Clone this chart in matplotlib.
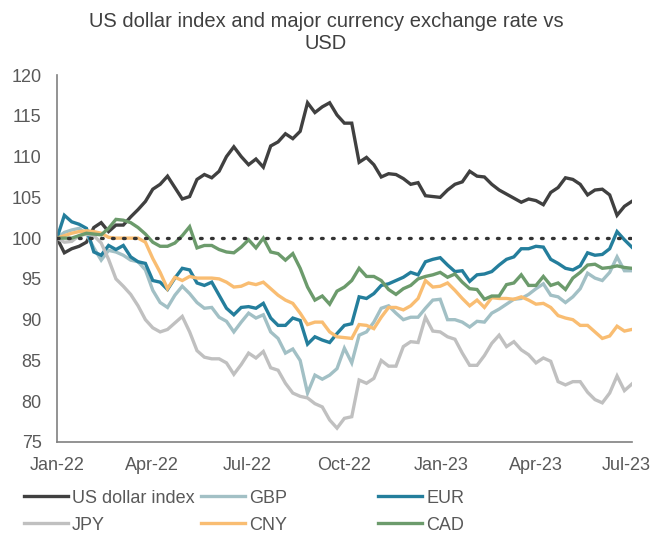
import matplotlib
matplotlib.use("Agg")
import matplotlib.pyplot as plt
import matplotlib.dates as mdates
import matplotlib.transforms as mtransforms
import pandas as pd

# weekly observations, indexed to 100 at the start of 2022
dates = pd.date_range("2022-01-01", periods=79, freq="7D")

usd = [100, 98.2, 98.7, 99, 99.5, 101.3, 101.9, 100.8, 101.6, 101.6,
       102.6, 103.5, 104.5, 106, 106.6, 107.6, 106.2, 104.8, 105.1, 107.2,
       107.8, 107.4, 108.2, 110, 111.2, 110, 109, 109.7, 108.7, 111.3,
       111.8, 112.8, 112.2, 113.1, 116.6, 115.4, 116.1, 116.6, 115.1, 114.1,
       114.1, 109.3, 109.9, 109, 107.5, 107.9, 107.8, 107.3, 106.6, 106.8,
       105.2, 105.1, 105, 105.9, 106.6, 106.9, 108.2, 107.6, 107.5, 106.6,
       105.9, 105.4, 104.9, 104.4, 104.8, 104.6, 104.1, 105.6, 106.2, 107.4,
       107.2, 106.6, 105.3, 105.9, 106, 105.3, 102.8, 103.9, 104.5]

gbp = [100, 100.7, 101, 101.2, 100.5, 98.8, 97.3, 98.5, 98.3, 97.9,
       97.3, 97.1, 96.1, 93.6, 92.1, 91.5, 93, 94.1, 93.2, 92.1,
       91.4, 91.5, 90.3, 89.8, 88.5, 89.7, 90.8, 90.2, 90.6, 88.5,
       87.7, 85.9, 86.4, 85, 81, 83.2, 82.7, 83.2, 84, 86.5,
       84.7, 88.1, 88.5, 89.7, 91.4, 91.7, 90.8, 90, 90.3, 90.3,
       91.4, 92.4, 92.5, 90, 90, 89.7, 89.1, 89.8, 89.7, 90.8,
       91.3, 91.9, 92.5, 92.6, 93.1, 93.8, 94.4, 93, 92.8, 92.1,
       92.8, 93.8, 95.7, 95.1, 94.8, 95.8, 97.7, 96, 96]

eur = [100, 102.8, 102, 101.7, 101.2, 98.3, 97.9, 99.1, 98.6, 99.1,
       97.7, 97.1, 96.9, 94.8, 94.6, 93.7, 95.1, 96.3, 96.1, 94.5,
       94.2, 94.6, 93, 91.4, 90.6, 91.5, 91.6, 91.4, 92, 90.2,
       89.3, 89.3, 90.2, 89.9, 87, 87.9, 87.5, 87.2, 88.3, 89.3,
       89.5, 92.8, 92.6, 93.2, 94.2, 94.4, 94.8, 95.2, 95.8, 95.5,
       97.1, 97.4, 97.6, 96.7, 95.9, 96, 94.7, 95.5, 95.6, 95.9,
       96.7, 97.4, 97.7, 98.7, 98.7, 99, 98.9, 97.4, 96.9, 96.3,
       96.1, 96.6, 98.2, 97.9, 98, 98.7, 100.8, 99.8, 98.9]

jpy = [100, 99.5, 99.6, 100.3, 100.5, 100.3, 99.4, 97.4, 95, 94.1,
       93.1, 91.7, 90, 89, 88.5, 88.8, 89.6, 90.4, 88.5, 86.2,
       85.4, 85.2, 85.2, 84.7, 83.3, 84.5, 85.9, 85.3, 86.1, 84.1,
       83.8, 82.2, 81, 80.6, 80.4, 79.7, 79.3, 77.7, 76.7, 77.9,
       78.1, 82.6, 82.2, 82.8, 85, 84.3, 84.3, 86.7, 87.3, 87.2,
       90.3, 88.6, 88.5, 87.9, 87.6, 85.9, 84.4, 84.4, 85.6, 87.1,
       88.1, 86.7, 87.3, 86.3, 85.7, 84.7, 85.3, 84.9, 82.4, 82,
       82.4, 82.4, 81.1, 80.2, 79.8, 81, 83.1, 81.3, 82.1]

cny = [100, 100.3, 100.6, 100.8, 100.9, 100.8, 100.6, 100.1, 100, 100,
       100, 100, 99.5, 97.5, 95.8, 93.8, 95.2, 94.8, 95.3, 95.1,
       95.1, 95.1, 95, 94.6, 94, 94.1, 94.5, 94.3, 94.6, 93.8,
       93, 92.4, 92, 90.8, 89.4, 89.7, 89.7, 88.5, 87.9, 87.8,
       87.7, 89.4, 89.3, 88.9, 90.3, 91.5, 91.5, 91.2, 91.7, 92.6,
       94.8, 94, 94.1, 94.5, 93.6, 92.6, 91.7, 92.4, 91.5, 92.7,
       92.6, 92.6, 92.5, 92.8, 92.4, 91.9, 92, 91.5, 90.5, 90.2,
       90, 89.3, 89.3, 88.5, 87.7, 88, 89.2, 88.6, 88.8]

cad = [100, 100, 100, 100.3, 100.6, 100.5, 100.4, 101.2, 102.3, 102.2,
       101.9, 101.3, 100.5, 99.5, 99, 99, 99.4, 100.3, 101.4, 98.8,
       99.1, 99.1, 98.6, 98.3, 98.2, 98.9, 99.8, 98.8, 100, 98.3,
       98.1, 97.3, 98.1, 96.3, 94, 92.4, 92.9, 91.9, 93.5, 94,
       94.8, 96.3, 95.3, 95.3, 94.8, 93.7, 93.1, 93.8, 94.2, 95,
       95.3, 95.5, 95.8, 95.2, 95.6, 94.6, 93.8, 93.7, 92.5, 92.9,
       92.9, 94.3, 94.5, 95.5, 94.2, 94.2, 95.3, 94.2, 94.5, 93.7,
       95.1, 95.8, 96.7, 96.8, 96.3, 96.4, 96.6, 96.4, 96.3]

series = [
    ("US dollar index", usd, "#404040"),
    ("GBP", gbp, "#a2c0c5"),
    ("EUR", eur, "#247e9c"),
    ("JPY", jpy, "#c0c0c0"),
    ("CNY", cny, "#f9bd72"),
    ("CAD", cad, "#6c9b6c"),
]

plt.rcParams["font.family"] = ["Liberation Sans", "DejaVu Sans"]
text_col = "#595959"

fig = plt.figure(figsize=(6.52, 5.36), dpi=100)
ax = fig.add_axes([0.0874, 0.1754, 0.8816, 0.6846])

handles = {}
for name, vals, col in series:
    h, = ax.plot(dates, vals, color=col, lw=2.4, solid_joinstyle="miter",
                 label=name)
    handles[name] = h

# reference line at 100
ax.plot([dates[0], dates[-1]], [100, 100], color="#333333", lw=2.4,
        linestyle=(0, (0.5, 2.8)), dash_capstyle="round", zorder=5)

ax.set_ylim(75, 120)
ax.set_yticks(range(75, 121, 5))
ax.set_xlim(dates[0], pd.Timestamp("2023-07-01"))
ax.xaxis.set_major_locator(mdates.MonthLocator(bymonth=[1, 4, 7, 10]))
ax.xaxis.set_major_formatter(mdates.DateFormatter("%b-%y"))

for side in ["top", "right"]:
    ax.spines[side].set_visible(False)
for side in ["left", "bottom"]:
    ax.spines[side].set_color("#808080")
    ax.spines[side].set_linewidth(1.2)
ax.tick_params(axis="both", length=0, labelsize=13, colors=text_col)
ax.tick_params(axis="y", pad=11)
ax.tick_params(axis="x", pad=11)

fig.suptitle("US dollar index and major currency exchange rate vs\nUSD",
             fontsize=14.5, color="#404040", y=0.977, linespacing=1.2)

# three legend columns of equal width, like the original
cols = [["US dollar index", "JPY"], ["GBP", "CNY"], ["EUR", "CAD"]]
for k, names in enumerate(cols):
    fig.legend(handles=[handles[n] for n in names], labels=names,
               loc="upper left", bbox_to_anchor=(0.026 + k * 0.2715, 0.1),
               frameon=False, fontsize=13, handlelength=2.4,
               handletextpad=0.25, labelspacing=0.55, borderaxespad=0,
               labelcolor=text_col)

# the last date label sits a little inside the right edge
fig.canvas.draw()
last = ax.get_xticklabels()[-1]
last.set_transform(last.get_transform() +
                   mtransforms.ScaledTranslation(-6 / 100, 0, fig.dpi_scale_trans))

fig.savefig("out.png", dpi=100)
